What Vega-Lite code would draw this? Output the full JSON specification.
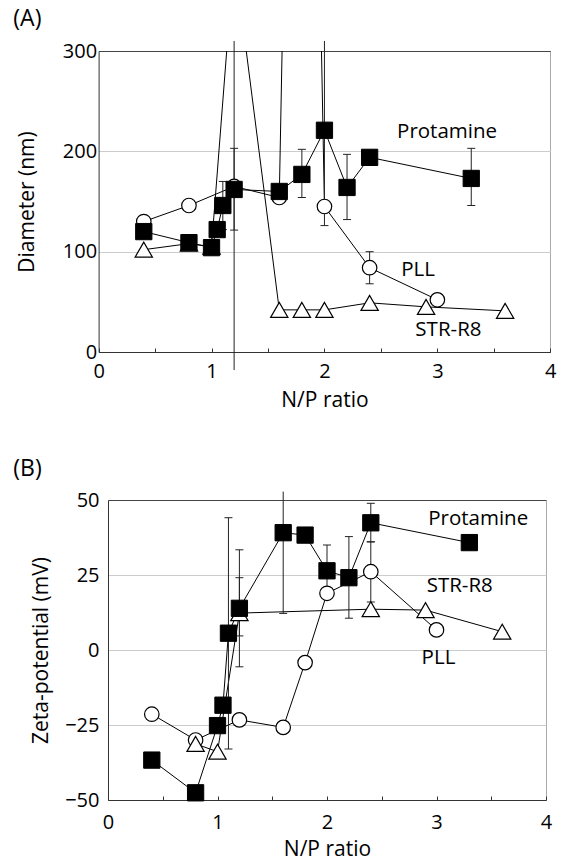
{
  "$schema": "https://vega.github.io/schema/vega-lite/v6.json",
  "padding": {"left": 13, "top": 8, "right": 5, "bottom": 2},
  "spacing": 48,
  "resolve": {"scale": {"x": "independent", "y": "independent"}},
  "config": {
    "font": "Open Sans",
    "view": {"stroke": null},
    "axis": {"labelFont": "Open Sans", "labelFontSize": 20, "labelColor": "#000", "titleFont": "Open Sans", "titleFontSize": 21, "titleFontWeight": "normal", "titleColor": "#000", "domainColor": "#333", "tickColor": "#333", "labelFlush": false, "labelOverlap": false, "labelBound": false, "gridColor": "#ccc", "gridWidth": 1},
    "title": {"font": "Open Sans", "fontSize": 23, "fontWeight": "normal", "color": "#000"}
  },
  "datasets": {
    "ptA": [
      {"s": "PLL", "x": 0.4, "y": 130}, {"s": "PLL", "x": 0.8, "y": 146}, {"s": "PLL", "x": 1.2, "y": 165}, {"s": "PLL", "x": 1.6, "y": 154}, {"s": "PLL", "x": 1.8, "y": 1330}, {"s": "PLL", "x": 2.0, "y": 145}, {"s": "PLL", "x": 2.4, "y": 84}, {"s": "PLL", "x": 3.0, "y": 52},
      {"s": "STR-R8", "x": 0.4, "y": 102}, {"s": "STR-R8", "x": 0.8, "y": 108}, {"s": "STR-R8", "x": 1.0, "y": 105}, {"s": "STR-R8", "x": 1.2, "y": 395}, {"s": "STR-R8", "x": 1.6, "y": 42}, {"s": "STR-R8", "x": 1.8, "y": 42}, {"s": "STR-R8", "x": 2.0, "y": 42}, {"s": "STR-R8", "x": 2.4, "y": 49}, {"s": "STR-R8", "x": 2.9, "y": 45}, {"s": "STR-R8", "x": 3.6, "y": 41},
      {"s": "Protamine", "x": 0.4, "y": 120}, {"s": "Protamine", "x": 0.8, "y": 109}, {"s": "Protamine", "x": 1.0, "y": 104}, {"s": "Protamine", "x": 1.05, "y": 122}, {"s": "Protamine", "x": 1.1, "y": 146}, {"s": "Protamine", "x": 1.2, "y": 162}, {"s": "Protamine", "x": 1.6, "y": 160}, {"s": "Protamine", "x": 1.8, "y": 177}, {"s": "Protamine", "x": 2.0, "y": 221}, {"s": "Protamine", "x": 2.2, "y": 164}, {"s": "Protamine", "x": 2.4, "y": 194}, {"s": "Protamine", "x": 3.3, "y": 173}
    ],
    "erA": [
      {"s": "PLL", "x": 2.4, "y": 68, "y2": 100},
      {"s": "STR-R8", "x": 1.2, "y": -18, "y2": 310},
      {"s": "Protamine", "x": 1.1, "y": 122, "y2": 170},
      {"s": "Protamine", "x": 1.2, "y": 121.5, "y2": 203},
      {"s": "Protamine", "x": 1.8, "y": 154, "y2": 202},
      {"s": "Protamine", "x": 2.0, "y": 126, "y2": 310},
      {"s": "Protamine", "x": 2.2, "y": 132, "y2": 197},
      {"s": "Protamine", "x": 3.3, "y": 146, "y2": 203}
    ],
    "lbA": [
      {"t": "Protamine", "x": 2.643, "y": 219},
      {"t": "PLL", "x": 2.68, "y": 81.7},
      {"t": "STR-R8", "x": 2.805, "y": 22}
    ],
    "ptB": [
      {"s": "PLL", "x": 0.4, "y": -21.4}, {"s": "PLL", "x": 0.8, "y": -30}, {"s": "PLL", "x": 1.2, "y": -23.3}, {"s": "PLL", "x": 1.6, "y": -25.8}, {"s": "PLL", "x": 1.8, "y": -4.2}, {"s": "PLL", "x": 2.0, "y": 18.9}, {"s": "PLL", "x": 2.4, "y": 26.1}, {"s": "PLL", "x": 3.0, "y": 6.7},
      {"s": "STR-R8", "x": 0.8, "y": -31.3}, {"s": "STR-R8", "x": 1.0, "y": -33.9}, {"s": "STR-R8", "x": 1.2, "y": 12.3}, {"s": "STR-R8", "x": 2.4, "y": 13.6}, {"s": "STR-R8", "x": 2.9, "y": 13.3}, {"s": "STR-R8", "x": 3.6, "y": 6.1},
      {"s": "Protamine", "x": 0.4, "y": -36.7}, {"s": "Protamine", "x": 0.8, "y": -47.6}, {"s": "Protamine", "x": 1.0, "y": -25.2}, {"s": "Protamine", "x": 1.05, "y": -18.4}, {"s": "Protamine", "x": 1.1, "y": 5.6}, {"s": "Protamine", "x": 1.2, "y": 13.9}, {"s": "Protamine", "x": 1.6, "y": 39.1}, {"s": "Protamine", "x": 1.8, "y": 38.3}, {"s": "Protamine", "x": 2.0, "y": 26.4}, {"s": "Protamine", "x": 2.2, "y": 24.1}, {"s": "Protamine", "x": 2.4, "y": 42.4}, {"s": "Protamine", "x": 3.3, "y": 35.8}
    ],
    "erB": [
      {"s": "Protamine", "x": 1.1, "y": -33, "y2": 44.1},
      {"s": "Protamine", "x": 1.2, "y": -5.6, "y2": 33.4},
      {"s": "Protamine", "x": 1.6, "y": 12.2, "y2": 52.8},
      {"s": "Protamine", "x": 2.0, "y": 17.8, "y2": 35},
      {"s": "Protamine", "x": 2.2, "y": 10.6, "y2": 37.8},
      {"s": "Protamine", "x": 2.4, "y": 36.1, "y2": 48.9},
      {"s": "PLL", "x": 2.4, "y": 16, "y2": 36},
      {"s": "STR-R8", "x": 1.2, "y": 4.7, "y2": 24.1}
    ],
    "lbB": [
      {"t": "Protamine", "x": 2.924, "y": 43.7},
      {"t": "STR-R8", "x": 2.91, "y": 21.5},
      {"t": "PLL", "x": 2.864, "y": -2.7}
    ]
  },
  "vconcat": [
    {
      "width": 442.3,
      "height": 301,
      "title": {"text": "(A)", "anchor": "start", "frame": "group", "dx": -94.7, "offset": 9},
      "encoding": {
        "x": {"field": "x", "type": "quantitative", "scale": {"domain": [0, 4], "range": [-9.4, 442.3], "nice": false, "zero": false},
          "axis": {"title": "N/P ratio", "values": [0, 0.5, 1, 1.5, 2, 2.5, 3, 3.5, 4], "labelExpr": "datum.value % 1 === 0 ? format(datum.value, 'd') : ''", "grid": true, "gridColor": {"condition": {"test": "datum.value === 4", "value": "#aaa"}, "value": "transparent"}, "tickSize": -4, "labelPadding": 13, "titleY": 37, "titleBaseline": "top"}},
        "y": {"field": "y", "type": "quantitative", "scale": {"domain": [0, 300], "nice": false},
          "axis": {"title": "Diameter (nm)", "values": [0, 100, 200, 300], "offset": 9.4, "grid": true, "gridColor": {"condition": {"test": "datum.value === 300", "value": "#444"}, "value": "#ccc"}, "ticks": false, "labelPadding": 2, "titleX": -61, "titleBaseline": "bottom"}}
      },
      "layer": [
        {"data": {"name": "ptA"}, "mark": {"type": "line", "color": "#000", "strokeWidth": 1, "clip": true}, "encoding": {"detail": {"field": "s"}}},
        {"data": {"name": "erA"}, "mark": {"type": "rule", "color": "#222", "strokeWidth": 1}, "encoding": {"y2": {"field": "y2"}}},
        {"data": {"name": "erA"}, "transform": [{"fold": ["y", "y2"], "as": ["end", "y"]}, {"filter": "datum.y >= 0 && datum.y <= 300"}], "mark": {"type": "tick", "orient": "horizontal", "color": "#222", "size": 8, "thickness": 1, "opacity": 1}},
        {"data": {"name": "ptA"}, "transform": [{"filter": "datum.s === 'PLL' && datum.y <= 300"}], "mark": {"type": "point", "shape": "circle", "filled": true, "fill": "#fff", "stroke": "#000", "strokeWidth": 1.2, "size": 210, "opacity": 1}},
        {"data": {"name": "ptA"}, "transform": [{"filter": "datum.s === 'STR-R8' && datum.y <= 300"}], "mark": {"type": "point", "shape": "triangle-up", "filled": true, "fill": "#fff", "stroke": "#000", "strokeWidth": 1.2, "size": 300, "opacity": 1}},
        {"data": {"name": "ptA"}, "transform": [{"filter": "datum.s === 'Protamine' && datum.y <= 300"}], "mark": {"type": "point", "shape": "square", "filled": true, "fill": "#000", "stroke": "#000", "strokeWidth": 1, "size": 265, "opacity": 1}},
        {"data": {"name": "lbA"}, "mark": {"type": "text", "align": "left", "baseline": "middle", "fontSize": 20.5, "color": "#000", "font": "Open Sans"}, "encoding": {"text": {"field": "t"}}}
      ]
    },
    {
      "width": 438,
      "height": 300,
      "title": {"text": "(B)", "anchor": "start", "frame": "group", "dx": -94.7, "offset": 9},
      "encoding": {
        "x": {"field": "x", "type": "quantitative", "scale": {"domain": [0, 4], "nice": false, "zero": false},
          "axis": {"title": "N/P ratio", "values": [0, 0.5, 1, 1.5, 2, 2.5, 3, 3.5, 4], "labelExpr": "datum.value % 1 === 0 ? format(datum.value, 'd') : ''", "grid": true, "gridColor": {"condition": {"test": "datum.value === 4", "value": "#aaa"}, "value": "transparent"}, "tickSize": -4, "labelPadding": 16.5, "titleY": 38.5, "titleBaseline": "top"}},
        "y": {"field": "y", "type": "quantitative", "scale": {"domain": [-50, 50], "nice": false, "zero": false},
          "axis": {"title": "Zeta-potential (mV)", "values": [-50, -25, 0, 25, 50], "grid": true, "gridColor": {"condition": {"test": "datum.value === 50", "value": "#444"}, "value": "#ccc"}, "ticks": false, "labelPadding": 9, "titleX": -57, "titleBaseline": "bottom"}}
      },
      "layer": [
        {"data": {"name": "ptB"}, "mark": {"type": "line", "color": "#000", "strokeWidth": 1, "clip": true}, "encoding": {"detail": {"field": "s"}}},
        {"data": {"name": "erB"}, "mark": {"type": "rule", "color": "#222", "strokeWidth": 1}, "encoding": {"y2": {"field": "y2"}}},
        {"data": {"name": "erB"}, "transform": [{"fold": ["y", "y2"], "as": ["end", "y"]}, {"filter": "datum.y >= -50 && datum.y <= 50"}], "mark": {"type": "tick", "orient": "horizontal", "color": "#222", "size": 8, "thickness": 1, "opacity": 1}},
        {"data": {"name": "ptB"}, "transform": [{"filter": "datum.s === 'PLL'"}], "mark": {"type": "point", "shape": "circle", "filled": true, "fill": "#fff", "stroke": "#000", "strokeWidth": 1.2, "size": 210, "opacity": 1}},
        {"data": {"name": "ptB"}, "transform": [{"filter": "datum.s === 'STR-R8'"}], "mark": {"type": "point", "shape": "triangle-up", "filled": true, "fill": "#fff", "stroke": "#000", "strokeWidth": 1.2, "size": 300, "opacity": 1}},
        {"data": {"name": "ptB"}, "transform": [{"filter": "datum.s === 'Protamine'"}], "mark": {"type": "point", "shape": "square", "filled": true, "fill": "#000", "stroke": "#000", "strokeWidth": 1, "size": 265, "opacity": 1}},
        {"data": {"name": "lbB"}, "mark": {"type": "text", "align": "left", "baseline": "middle", "fontSize": 20.5, "color": "#000", "font": "Open Sans"}, "encoding": {"text": {"field": "t"}}}
      ]
    }
  ]
}
